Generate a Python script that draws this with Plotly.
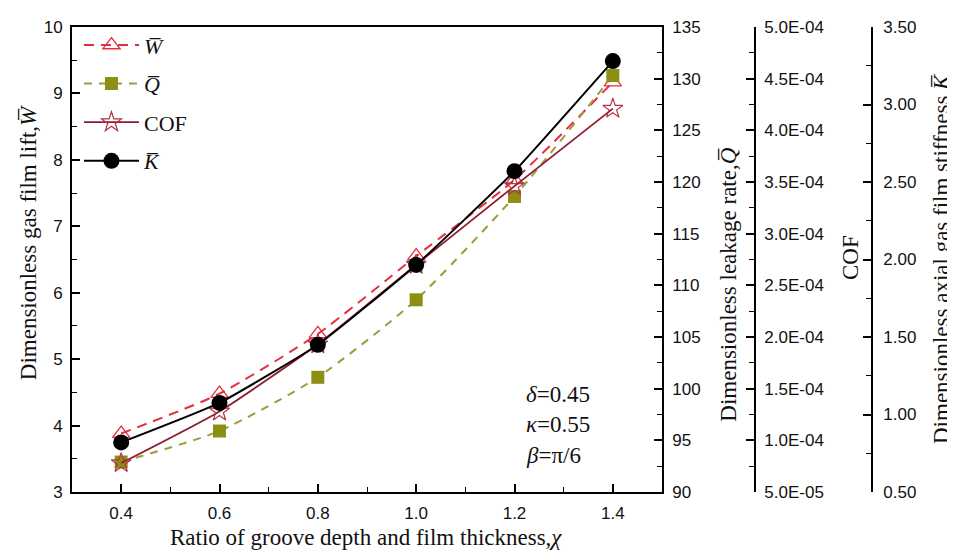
import plotly.graph_objects as go

chi = [0.4, 0.6, 0.8, 1.0, 1.2, 1.4]
W = [3.88, 4.48, 5.38, 6.55, 7.70, 9.17]
Q = [92.9, 95.9, 101.1, 108.6, 118.6, 130.3]
COF = [7.8e-5, 1.28e-4, 1.93e-4, 2.70e-4, 3.46e-4, 4.21e-4]
K = [0.82, 1.075, 1.45, 1.965, 2.57, 3.28]

cof_ticks = [5e-5 * i for i in range(1, 11)]
cof_ticktext = [f"{v:.1E}" for v in cof_ticks]

W_name = "<i>W\u0305</i>"
Q_name = "<i>Q\u0305</i>"
K_name = "<i>K\u0305</i>"

W_col = "#e52f3f"
Q_col = "#8e8e14"
Q_line = "#9c9c3c"
COF_col = "#8e1c2e"
K_col = "#000000"

fig = go.Figure()
fig.add_trace(go.Scatter(x=chi, y=W, name=W_name, yaxis="y", legendgroup="a",
                         mode="lines+markers", line=dict(color=W_col, width=2, dash="10px,7px", shape="spline", smoothing=0.6),
                         marker=dict(symbol="triangle-up-open", size=15, color=W_col, line=dict(width=1.3))))
fig.add_trace(go.Scatter(x=chi, y=Q, name=Q_name, yaxis="y2", legendgroup="b",
                         mode="lines+markers", line=dict(color=Q_line, width=2, dash="8px,7px", shape="spline", smoothing=0.6),
                         marker=dict(symbol="square", size=13, color=Q_col)))
fig.add_trace(go.Scatter(x=chi, y=COF, name="COF", yaxis="y3", legendgroup="c",
                         mode="lines+markers", line=dict(color=COF_col, width=1.8, shape="spline", smoothing=0.5),
                         marker=dict(symbol="star-open", size=15, color="#b23444", line=dict(width=1.2))))
fig.add_trace(go.Scatter(x=chi, y=K, name=K_name, yaxis="y4", legendgroup="d",
                         mode="lines+markers", line=dict(color=K_col, width=2, shape="spline", smoothing=0.4),
                         marker=dict(symbol="circle", size=16, color=K_col)))

# page body has an 8px margin; figure is sized/shifted to compensate
OFF = 8
FW, FH = 955 - OFF, 552 - OFF
PX0, PX1, PY0, PY1 = 72, 662, 21, 492   # plot area in page pixels
L, T = PX0 - OFF, PY0 - OFF
B = 552 - PY1
R = 10
PW = FW - L - R
PH = PY1 - PY0


def px(xpix):
    return (xpix - PX0) / PW


def py(ypix):
    return (PY1 - ypix) / PH


tickfont = dict(family="Liberation Sans, Arial", size=17, color="#111")
axcommon = dict(showgrid=False, zeroline=False, showline=True, linecolor="#000", linewidth=1.8,
                ticks="inside", ticklen=8, tickwidth=1.6, tickcolor="#000", tickfont=tickfont)
minor_common = dict(ticks="inside", ticklen=5, tickwidth=1.4, tickcolor="#000")

fig.update_layout(
    width=FW, height=FH,
    margin=dict(l=L, r=R, t=T, b=B),
    paper_bgcolor="white", plot_bgcolor="white",
    showlegend=True,
    legend=dict(x=0.008, y=1.006, xanchor="left", yanchor="top", bgcolor="rgba(0,0,0,0)",
                font=dict(family="Liberation Serif, Times New Roman", size=22, color="#111"),
                tracegroupgap=7, itemwidth=55, traceorder="grouped"),
    xaxis=dict(domain=[0, px(PX1)], range=[0.3, 1.5], tick0=0.4, dtick=0.2, tickformat=".1f",
               mirror=True, ticklabelstandoff=5,
               minor=dict(dtick=0.1, tick0=0.3, **minor_common),
               **axcommon),
    yaxis=dict(range=[3, 10], dtick=1, ticklabelstandoff=4,
               minor=dict(dtick=0.5, **minor_common),
               **axcommon),
    yaxis2=dict(overlaying="y", side="right", anchor="x", range=[90, 135], dtick=5, ticklabelstandoff=5,
                minor=dict(dtick=2.5, **minor_common),
                **axcommon),
    yaxis3=dict(overlaying="y", side="right", anchor="free", position=px(755), range=[5e-5, 5e-4],
                tickvals=cof_ticks, ticktext=cof_ticktext, ticklabelstandoff=5,
                minor=dict(dtick=2.5e-5, tick0=5e-5, **minor_common),
                **axcommon),
    yaxis4=dict(overlaying="y", side="right", anchor="free", position=px(872), range=[0.5, 3.5],
                dtick=0.5, tick0=0.5, tickformat=".2f", ticklabelstandoff=7,
                minor=dict(dtick=0.25, tick0=0.5, **minor_common),
                **axcommon),
)

titlefont = dict(family="Liberation Serif, Times New Roman", size=23, color="#111")
ann = [
    dict(text="Ratio of groove depth and film thickness,<i>χ</i>", x=px(366), y=py(538.5)),
    dict(text="Dimensionless gas film lift," + W_name, x=px(28), y=py(240), textangle=-90),
    dict(text="Dimensionless leakage rate," + Q_name, x=px(729), y=py(282), textangle=-90),
    dict(text="COF", x=px(850), y=py(255), textangle=-90),
    dict(text="Dimensionless axial gas film stiffness," + K_name, x=px(941), y=py(256), textangle=-90),
]
for a in ann:
    fig.add_annotation(xref="paper", yref="paper", showarrow=False, font=titlefont,
                       xanchor="center", yanchor="middle",
                       x=a["x"], y=a["y"], text=a["text"], textangle=a.get("textangle", 0))

params = ["<i>δ</i>=0.45", "<i>κ</i>=0.55", "<i>β</i>=π/6"]
param_y = [393, 424, 455]
for txt, yy in zip(params, param_y):
    fig.add_annotation(xref="paper", yref="paper", showarrow=False, x=px(524), y=py(yy),
                       xanchor="left", yanchor="middle", text=txt,
                       font=dict(family="Liberation Serif, Times New Roman", size=23, color="#111"))

fig.write_html("out.html")
